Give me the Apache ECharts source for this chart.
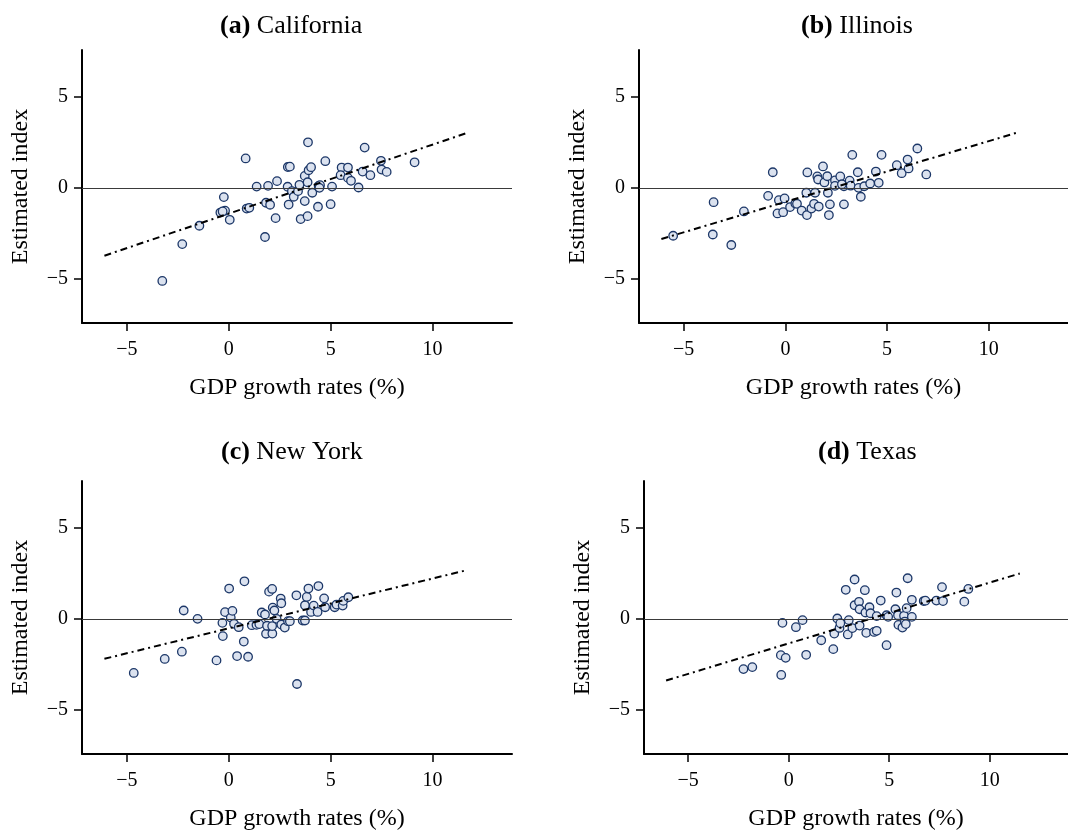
<!DOCTYPE html>
<html>
<head>
<meta charset="utf-8">
<title>Estimated index vs GDP growth</title>
<script src="https://cdn.jsdelivr.net/npm/echarts@6/dist/echarts.min.js"></script>
<style>
  html, body { margin: 0; padding: 0; background: #fff; }
  #chart { width: 1068px; height: 834px; }
</style>
</head>
<body>
<div id="chart"></div>
<script>
// State panels: (GDP growth %, estimated index) pairs
const panelTitles = ['(a)', '(b)', '(c)', '(d)'];
const stateNames = ['California', 'Illinois', 'New York', 'Texas'];

const californiaPoints = [
  [-3.26, -5.13], [-2.28, -3.10], [-1.44, -2.09], [-0.24, -0.51], [-0.41, -1.36],
  [-0.18, -1.26], [-0.30, -1.30], [0.05, -1.76], [0.83, 1.62], [0.88, -1.14],
  [1.01, -1.10], [1.37, 0.07], [1.78, -2.71], [1.83, -0.82], [2.03, -0.93],
  [1.93, 0.11], [2.30, -1.67], [2.37, 0.37], [2.89, 0.06], [2.90, 1.15],
  [3.00, 1.17], [2.94, -0.92], [3.10, -0.18], [3.19, -0.49], [3.40, -0.18],
  [3.47, 0.17], [3.53, -1.72], [3.73, -0.73], [3.73, 0.66], [3.87, 0.31],
  [3.87, -1.56], [3.89, 2.51], [3.92, 0.97], [4.04, 1.14], [4.10, -0.27],
  [4.38, -1.04], [4.41, 0.11], [4.48, 0.15], [4.45, 0.00], [5.07, 0.07],
  [5.00, -0.90], [4.74, 1.47], [6.67, 2.22], [5.54, 1.12], [5.85, 1.12],
  [5.49, 0.70], [5.85, 0.55], [6.00, 0.39], [6.37, 0.02], [6.57, 0.90],
  [6.95, 0.70], [7.47, 1.49], [7.50, 1.01], [7.75, 0.88], [9.12, 1.41]
];

const illinoisPoints = [
  [-5.52, -2.64], [-3.53, -0.79], [-3.57, -2.57], [-2.66, -3.15], [-2.04, -1.30],
  [-0.62, 0.86], [-0.85, -0.44], [-0.32, -0.68], [-0.04, -0.58], [-0.39, -1.41],
  [-0.11, -1.34], [0.23, -1.06], [0.49, -0.86], [0.57, -0.88], [0.80, -1.25],
  [1.06, -1.50], [1.03, -0.27], [1.08, 0.85], [1.28, -1.14], [1.41, -0.88],
  [1.46, -0.27], [1.64, -1.03], [1.57, 0.63], [1.61, 0.46], [1.85, 1.18],
  [1.92, 0.30], [2.06, 0.64], [2.09, -0.27], [2.19, -0.91], [2.14, -1.50],
  [2.44, 0.41], [2.44, 0.11], [2.70, 0.63], [2.88, 0.09], [2.88, -0.91],
  [2.78, 0.20], [3.16, 0.40], [3.21, 0.12], [3.29, 1.82], [3.56, 0.86],
  [3.60, 0.00], [3.71, -0.49], [3.88, 0.09], [4.17, 0.24], [4.45, 0.90],
  [4.59, 0.28], [4.73, 1.82], [5.48, 1.25], [5.72, 0.81], [6.01, 1.56],
  [6.06, 1.07], [6.49, 2.17], [6.93, 0.74]
];

const newYorkPoints = [
  [-4.66, -2.98], [-3.14, -2.21], [-2.30, -1.81], [-2.21, 0.46], [-1.53, 0.00],
  [-0.60, -2.29], [-0.31, -0.22], [-0.29, -0.95], [-0.18, 0.37], [0.02, 1.67],
  [0.10, 0.07], [0.18, 0.44], [0.26, -0.27], [0.41, -2.05], [0.49, -0.46],
  [0.74, -1.25], [0.77, 2.07], [0.95, -2.09], [1.13, -0.35], [1.36, -0.33],
  [1.50, -0.29], [1.62, 0.35], [1.78, 0.24], [1.83, -0.82], [1.88, -0.38],
  [1.98, 1.50], [2.13, 1.65], [2.14, -0.81], [2.13, -0.40], [2.16, 0.62],
  [2.24, 0.46], [2.35, 0.00], [2.55, 1.12], [2.58, 0.86], [2.58, -0.31],
  [2.75, -0.48], [2.91, -0.13], [3.00, -0.13], [3.32, 1.30], [3.35, -3.59],
  [3.63, -0.09], [3.74, -0.09], [3.74, 0.75], [3.83, 1.21], [3.91, 1.67],
  [4.04, 0.38], [4.17, 0.73], [4.36, 0.38], [4.40, 1.81], [4.68, 1.13],
  [4.73, 0.64], [5.20, 0.64], [5.29, 0.79], [5.59, 0.73], [5.62, 0.99],
  [5.87, 1.19]
];

const texasPoints = [
  [-2.25, -2.77], [-1.81, -2.66], [-0.37, -3.09], [-0.39, -2.00], [-0.15, -2.15],
  [-0.31, -0.22], [0.36, -0.46], [0.69, -0.07], [0.87, -1.98], [1.62, -1.18],
  [2.22, -1.67], [2.27, -0.81], [2.42, 0.02], [2.53, -0.50], [2.57, -0.24],
  [2.84, 1.60], [2.94, -0.86], [2.99, -0.07], [3.17, -0.51], [3.28, 2.17],
  [3.28, 0.75], [3.50, 0.94], [3.53, 0.53], [3.53, -0.37], [3.79, 1.58],
  [3.82, 0.35], [3.86, -0.77], [4.02, 0.64], [4.07, 0.31], [4.25, -0.72],
  [4.38, -0.66], [4.38, 0.15], [4.58, 1.01], [4.87, -1.45], [4.87, 0.20],
  [4.95, 0.11], [5.31, 0.53], [5.36, 1.45], [5.44, 0.20], [5.46, -0.33],
  [5.66, -0.48], [5.74, 0.17], [5.78, -0.15], [5.83, -0.29], [5.87, 0.59],
  [5.92, 2.24], [6.13, 0.11], [6.13, 1.05], [6.72, 0.98], [6.80, 1.00],
  [7.35, 1.01], [7.63, 1.75], [7.68, 0.98], [8.74, 0.95], [8.94, 1.65]
];

// Fitted regression lines: two endpoints each
const californiaFit = [[-6.1, -3.74], [11.7, 3.03]];
const illinoisFit   = [[-6.1, -2.82], [11.5, 3.08]];
const newYorkFit    = [[-6.1, -2.20], [11.7, 2.69]];
const texasFit      = [[-6.1, -3.40], [11.5, 2.50]];

// Axis ticks
const xTicks = [-5, 0, 5, 10];
const yTicks = [-5, 0, 5];
const xAxisTitle = 'GDP growth rates (%)';
const yAxisTitle = 'Estimated index';

const scatterSets = [californiaPoints, illinoisPoints, newYorkPoints, texasPoints];
const fitSets = [californiaFit, illinoisFit, newYorkFit, texasFit];

const FONT = '"Liberation Serif", "DejaVu Serif", serif';

// Panel placement in pixels
const panels = [
  { left: 82,  top: 50,  titleLeft: 215, titleTop: 8 },
  { left: 639, top: 50,  titleLeft: 796, titleTop: 8 },
  { left: 82,  top: 481, titleLeft: 216, titleTop: 434 },
  { left: 644, top: 481, titleLeft: 813, titleTop: 434 }
];
const PW = 430, PH = 273;

const fmtMinus = v => String(v).replace('-', '\u2212');

const grids = [], xAxes = [], yAxes = [], series = [], titles = [];

panels.forEach((p, i) => {
  grids.push({ left: p.left, top: p.top, width: PW, height: PH, containLabel: false });
  titles.push({
    text: '{b|' + panelTitles[i] + '} ' + stateNames[i],
    left: p.titleLeft, top: p.titleTop,
    textStyle: {
      fontFamily: FONT, fontSize: 26, fontWeight: 'normal', color: '#000',
      rich: { b: { fontFamily: FONT, fontSize: 26, fontWeight: 'bold', color: '#000' } }
    }
  });
  xAxes.push({
    gridIndex: i, type: 'value', min: -7.2, max: 13.9,
    name: xAxisTitle, nameLocation: 'middle', nameGap: 53,
    nameTextStyle: { fontFamily: FONT, fontSize: 24, color: '#000' },
    axisLine: { onZero: false, lineStyle: { color: '#000', width: 2 } },
    axisTick: { show: true, length: 8, customValues: xTicks, lineStyle: { color: '#000', width: 1.5 } },
    axisLabel: { customValues: xTicks, formatter: fmtMinus, margin: 17,
                 fontFamily: FONT, fontSize: 20, color: '#000' },
    splitLine: { show: false }
  });
  yAxes.push({
    gridIndex: i, type: 'value', min: -7.45, max: 7.6,
    name: yAxisTitle, nameLocation: 'middle', nameGap: 49, nameRotate: 90,
    nameTextStyle: { fontFamily: FONT, fontSize: 24, color: '#000' },
    axisLine: { onZero: false, lineStyle: { color: '#000', width: 2 } },
    axisTick: { show: true, length: 8, customValues: yTicks, lineStyle: { color: '#000', width: 1.5 } },
    axisLabel: { customValues: yTicks, formatter: fmtMinus, margin: 14,
                 fontFamily: FONT, fontSize: 20, color: '#000' },
    splitLine: { show: false }
  });
  series.push({
    type: 'scatter', xAxisIndex: i, yAxisIndex: i,
    data: scatterSets[i], symbol: 'circle', symbolSize: 8.5,
    itemStyle: { color: '#dbe2ef', borderColor: '#1c3768', borderWidth: 1.3, opacity: 1 },
    markLine: {
      silent: true, symbol: 'none', animation: false,
      label: { show: false },
      lineStyle: { color: '#3a3a3a', width: 1, type: 'solid' },
      data: [{ yAxis: 0 }]
    },
    z: 2, animation: false
  });
  series.push({
    type: 'line', xAxisIndex: i, yAxisIndex: i,
    data: fitSets[i], symbol: 'none',
    lineStyle: { color: '#000', width: 2, type: [7, 4, 2, 4] },
    z: 3, animation: false
  });
});

const chart = echarts.init(document.getElementById('chart'), null, { renderer: 'canvas' });
chart.setOption({
  backgroundColor: '#fff',
  animation: false,
  title: titles,
  grid: grids,
  xAxis: xAxes,
  yAxis: yAxes,
  series: series
});
</script>
</body>
</html>
